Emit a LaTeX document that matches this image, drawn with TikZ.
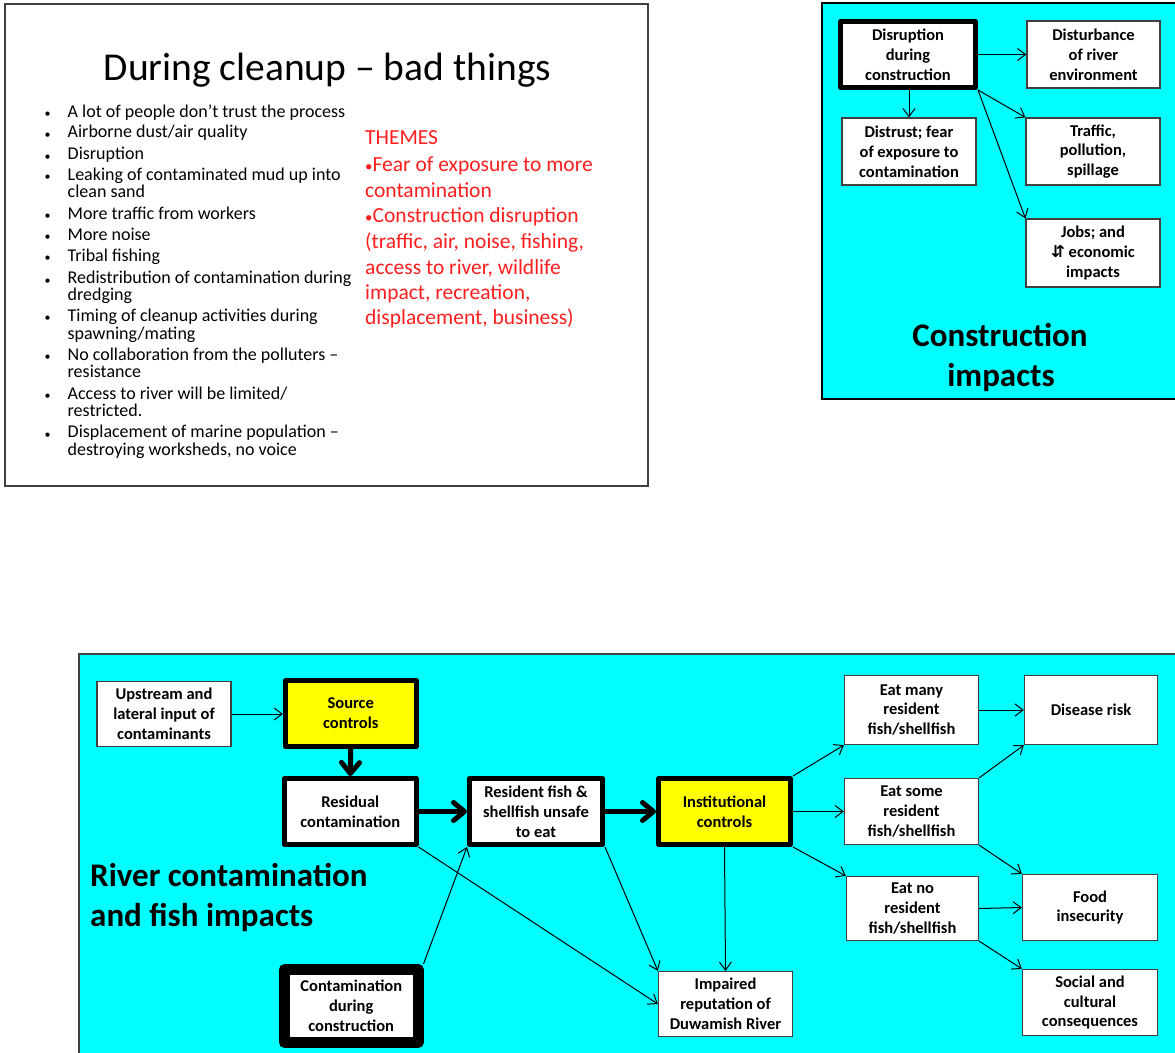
\documentclass[tikz,border=0pt]{standalone}
\usepackage{fontspec}
\setmainfont{Carlito}
\newfontfamily\symfont{DejaVu Sans}
\usetikzlibrary{arrows.meta}
\definecolor{cyanbg}{RGB}{0,255,255}
\definecolor{ylw}{RGB}{255,255,0}
\definecolor{themered}{RGB}{255,30,30}
\definecolor{edgegray}{RGB}{64,64,64}
\begin{document}
\begin{tikzpicture}[x=1pt,y=-1pt,
  box/.style={draw=edgegray, fill=white, line width=1.3pt, align=center, inner sep=0pt,
    font=\bfseries\fontsize{16.5}{19.8}\selectfont},
  tbox/.style={box, draw=black, line width=5pt, line join=round},
  xbox/.style={box, draw=black, line width=11pt, line join=round},
  yel/.style={fill=ylw},
  conn/.style={draw=black, line width=1pt, -{Straight Barb[length=8pt,width=12pt]}},
  bigarrow/.style={draw=black, line width=5pt, -{Straight Barb[length=11pt,width=18pt,round]}},
  bullettext/.style={anchor=mid west, inner sep=0pt, font=\fontsize{18}{18}\selectfont},
  themetext/.style={anchor=mid west, inner sep=0pt, text=themered, font=\fontsize{21.5}{26}\selectfont},
  bigtitle/.style={inner sep=0pt, font=\bfseries\fontsize{33}{40}\selectfont},
]
\useasboundingbox (0,0) rectangle (1175,1052);
\fill[white] (0,0) rectangle (1175,1052);

% ---------- slide ----------
\draw[draw=edgegray, line width=2pt, fill=white] (5,4) rectangle (648,486);
\node[anchor=base, inner sep=0pt, font=\fontsize{39.5}{40}\selectfont] (slidetitle) at (327.5,80) {During cleanup – bad things};
\foreach \yy [count=\i] in {114.7,135.3,157.3,178,217,238,259,281.3,318.7,358,397,435.3}
  \node[anchor=center, inner sep=0pt, font=\fontsize{12}{12}\selectfont] (dot\i) at (47.5,\yy) {•};
\foreach \yy/\tt [count=\i] in {
  114.7/{A lot of people don’t trust the process},
  135.3/{Airborne dust/air quality},
  157.3/{Disruption},
  178/{Leaking of contaminated mud up into},
  195.3/{clean sand},
  217/{More traffic from workers},
  238/{More noise},
  259/{Tribal fishing},
  281.3/{Redistribution of contamination during},
  298/{dredging},
  318.7/{Timing of cleanup activities during},
  337/{spawning/mating},
  358/{No collaboration from the polluters –},
  374.7/{resistance},
  397/{Access to river will be limited/},
  414.3/{restricted.},
  435.3/{Displacement of marine population –},
  452.7/{destroying worksheds, no voice}}
  \node[bullettext] (bl\i) at (67.5,\yy) {\tt};
\foreach \yy/\tt [count=\i] in {
  142.3/{THEMES},
  168.7/{{\fontsize{15}{15}\selectfont•}Fear of exposure to more},
  194.7/{contamination},
  219.7/{{\fontsize{15}{15}\selectfont•}Construction disruption},
  245.7/{(traffic, air, noise, fishing,},
  271.7/{access to river, wildlife},
  297/{impact, recreation,},
  322.3/{displacement, business)}}
  \node[themetext] (th\i) at (365,\yy) {\tt};

% ---------- construction impacts ----------
\draw[fill=cyanbg, draw=black, line width=1.3pt] (822,3) rectangle (1185,399);
\node[tbox, minimum width=135pt, minimum height=66pt] (dcon) at (908,54.5) {Disruption\\during\\construction};
\node[box, minimum width=133pt, minimum height=67pt] (dist) at (1093.5,54.5) {Disturbance\\of river\\environment};
\node[box, minimum width=134pt, minimum height=67pt] (fear) at (909,151.5) {Distrust; fear\\of exposure to\\contamination};
\node[box, minimum width=134pt, minimum height=67pt] (traf) at (1093,151.5) {Traffic,\\pollution,\\spillage};
\node[box, minimum width=134pt, minimum height=68pt] (jobs) at (1093,253) {Jobs; and\\{\symfont\bfseries ⇵} economic\\impacts};
\draw[conn] (dcon.east) -- (dist.west);
\draw[conn] (fear.north |- dcon.south) -- (fear.north);
\draw[conn] (dcon.south east) -- (traf.north west);
\draw[conn] (dcon.south east) -- (jobs.north west);
\node[bigtitle, anchor=base] (cit1) at (1000,346.7) {Construction};
\node[bigtitle, anchor=base] (cit2) at (1001,386.7) {impacts};

% ---------- river contamination ----------
\draw[fill=cyanbg, draw=edgegray, line width=1.3pt] (79,654) rectangle (1185,1065);
\node[box, minimum width=134pt, minimum height=65pt] (up) at (164,714) {Upstream and\\lateral input of\\contaminants};
\node[tbox, yel, minimum width=130.5pt, minimum height=66pt] (src) at (350.75,713.5) {Source\\controls};
\node[tbox, minimum width=131.5pt, minimum height=66pt] (res) at (350.25,811.5) {Residual\\contamination};
\node[tbox, minimum width=133pt, minimum height=66pt] (fish) at (536,811.5) {Resident fish \&\\shellfish unsafe\\to eat};
\node[tbox, yel, minimum width=132pt, minimum height=66pt] (inst) at (724.5,811.5) {Institutional\\controls};
\node[xbox, minimum width=133.5pt, minimum height=73pt] (cdc) at (351.25,1006) {Contamination\\during\\construction};
\node[box, minimum width=134pt, minimum height=65pt] (imp) at (725.5,1004) {Impaired\\reputation of\\Duwamish River};
\node[box, minimum width=134pt, minimum height=69pt] (many) at (911.5,710) {Eat many\\resident\\fish/shellfish};
\node[box, minimum width=134pt, minimum height=66pt] (some) at (911.5,811.5) {Eat some\\resident\\fish/shellfish};
\node[box, minimum width=132pt, minimum height=64pt] (none) at (912.5,908.5) {Eat no\\resident\\fish/shellfish};
\node[box, minimum width=133pt, minimum height=69pt] (dis) at (1091,710) {Disease risk};
\node[box, minimum width=135pt, minimum height=66pt] (food) at (1090,907.5) {Food\\insecurity};
\node[box, minimum width=135pt, minimum height=66pt] (soc) at (1090,1002.5) {Social and\\cultural\\consequences};

\draw[conn] (up.east) -- (src.west |- up.east);
\draw[bigarrow] (src.south) -- (res.north);
\draw[bigarrow] (res.east) -- (fish.west);
\draw[bigarrow] (fish.east) -- (inst.west);
\draw[conn] (res.south east) -- (imp.west);
\draw[conn] (cdc.north east) -- (fish.south west);
\draw[conn] (fish.south east) -- (imp.north west);
\draw[conn] (inst.south) -- (imp.north);
\draw[conn] (inst.north east) -- (many.south west);
\draw[conn] (inst.east) -- (some.west);
\draw[conn] (inst.south east) -- (none.north west);
\draw[conn] (many.east) -- (dis.west);
\draw[conn] (some.north east) -- (dis.south west);
\draw[conn] (some.south east) -- (food.north west);
\draw[conn] (none.east) -- (food.west);
\draw[conn] (none.south east) -- (soc.north west);

\node[bigtitle, anchor=base west] (rc1) at (90,886) {River contamination};
\node[bigtitle, anchor=base west] (rc2) at (90,926.7) {and fish impacts};
\end{tikzpicture}
\end{document}
